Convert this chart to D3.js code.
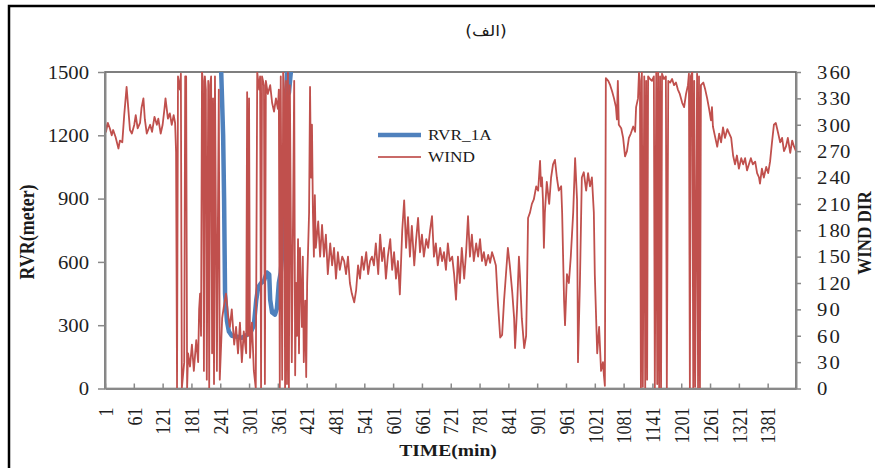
<!DOCTYPE html>
<html>
<head>
<meta charset="utf-8">
<script src="https://cdn.jsdelivr.net/npm/d3@7"></script>
<style>
  body { margin: 0; background: #fff; }
  svg { display: block; }
</style>
</head>
<body>
<div id="chart"></div>
<script>
// chart text
const chartTitle = "(الف)";
const leftTitle = "RVR(meter)";
const rightTitle = "WIND DIR";
const bottomTitle = "TIME(min)";
const seriesNames = ["RVR_1A", "WIND"];

// axis ticks
const rvrTicks = [0, 300, 600, 900, 1200, 1500];
const dirTicks = [0, 30, 60, 90, 120, 150, 180, 210, 240, 270, 300, 330, 360];
const timeTicks = [1, 61, 121, 181, 241, 301, 361, 421, 481, 541, 601, 661, 721, 781,
  841, 901, 961, 1021, 1081, 1141, 1201, 1261, 1321, 1381];

// RVR_1A (meters); above 1500 it leaves the plot
const rvrTime = [1, 238, 243, 247, 249, 251, 255, 259, 265, 276, 286, 297, 305, 311, 316, 320,
  326, 332, 338, 343, 345, 349, 355, 359, 363, 367, 372, 376, 378, 380, 384, 388, 393, 1440];
const rvrValue = [2000, 2000, 1500, 1200, 900, 450, 320, 270, 250, 245, 240, 255, 270, 300, 420, 480,
  500, 510, 550, 540, 420, 360, 350, 380, 500, 550, 700, 1000, 1200, 1500, 1400, 1500, 2000, 2000];

// WIND direction (degrees)
const windTime = [
  1, 3, 7, 11, 15, 18, 23, 29, 32, 37, 41, 46, 50, 53, 57, 62, 65, 69, 74, 77, 81, 84, 88, 95, 99,
  104, 109, 112, 117, 121, 125, 127, 132, 136, 140, 144, 147, 149,
  151, 153, 157, 159, 161, 166, 168, 170, 172, 174, 178, 182, 186, 191, 195, 197, 199, 201, 203,
  205, 207, 209, 211, 213, 216, 218, 220, 222, 224, 226, 228, 230, 234, 238,
  240, 245, 249, 253, 257, 261, 265, 270, 274, 278, 282, 286, 290, 295, 297, 299, 301, 303, 307, 311,
  315, 318, 322, 324, 326, 328, 332, 334, 336, 340, 345, 349, 353, 357, 361, 363, 365, 367, 370, 372,
  374, 376, 378, 380, 382, 384, 386, 390, 395, 397, 399, 401, 403, 405, 407, 411, 413, 415, 418, 420,
  422, 426, 428, 430, 432, 434, 436, 438, 440, 445, 449,
  453, 457, 461, 465, 470, 474, 478, 482, 486, 490, 495, 499, 503, 507, 511, 515, 520, 524, 528, 532,
  536, 540, 545, 549, 553, 557, 561, 565, 570, 574, 578, 582, 586, 590, 595, 599, 603, 607, 611, 615,
  620, 624, 628, 632, 636, 640, 645, 649, 653, 657, 661, 665, 670, 674, 678, 682, 686, 690, 694, 699,
  703, 707, 711, 715, 719, 724, 728, 732, 736, 740, 744, 749, 753, 757, 761, 765, 769, 774, 778, 782,
  786, 790, 794, 799, 803, 807, 811, 815, 819,
  824, 828, 832, 836, 840, 844, 849, 853, 855, 859, 863, 865, 869, 874, 878, 880, 882, 886, 890, 894,
  899, 903, 907, 909, 911, 913, 915, 917, 921, 926, 930, 934, 938, 942, 946, 951, 953, 957, 959, 963,
  967, 971, 976, 980, 984, 986, 990, 994, 998, 1003, 1007, 1011, 1015, 1019, 1021, 1026, 1030, 1034,
  1038, 1040, 1042, 1044,
  1049, 1053, 1057, 1061, 1065, 1067, 1069, 1071, 1076, 1080, 1084, 1088, 1092, 1096, 1101, 1105,
  1107, 1111, 1113, 1115, 1117, 1119, 1121, 1124, 1126, 1128, 1130, 1132, 1136, 1140, 1144, 1146,
  1149, 1151, 1153, 1155, 1157, 1159, 1161, 1165, 1169, 1171, 1174, 1178, 1182, 1186, 1190, 1194,
  1198, 1203, 1207, 1211, 1215, 1217, 1219, 1221, 1224, 1226, 1228, 1230, 1234, 1236, 1238, 1240,
  1242, 1247, 1251, 1255, 1259, 1263, 1265, 1267, 1272, 1276, 1280, 1284, 1288, 1292, 1297, 1301,
  1305, 1309, 1313, 1317, 1321, 1326, 1330, 1334, 1338, 1342, 1346, 1350, 1355, 1359, 1363, 1365,
  1369, 1373, 1378, 1382, 1386, 1390, 1394, 1398, 1403, 1407, 1411, 1415, 1419, 1423, 1428, 1432,
  1436, 1440
];
const windDir = [
  307, 292, 302, 296, 288, 294, 286, 273, 282, 280, 311, 343, 315, 294, 290, 300, 311, 296, 302, 319,
  330, 306, 290, 300, 292, 309, 300, 307, 290, 300, 319, 330, 307, 313, 300, 311, 302, 269,
  0, 355, 340, 358, 0, 30, 355, 355, 0, 40, 25, 50, 20, 55, 30, 90, 108, 60, 360,
  350, 20, 355, 340, 10, 350, 0, 345, 355, 40, 330, 5, 355, 20, 340,
  10, 80, 95, 108, 85, 70, 90, 50, 70, 40, 75, 30, 65, 40, 337, 60, 330, 35, 75, 20,
  0, 360, 340, 355, 0, 355, 345, 5, 350, 335, 345, 325, 315, 330, 318, 340, 0, 355, 10, 360,
  340, 0, 350, 5, 360, 0, 345, 30, 350, 15, 120, 60, 170, 40, 160, 70, 150, 30, 100, 13,
  120, 200, 343, 240, 300, 200, 150, 220, 160, 190, 150,
  186, 150, 175, 130, 165, 140, 160, 125, 155, 135, 150, 145, 130, 150, 120, 108, 98, 112, 140, 125,
  150, 135, 155, 130, 145, 150, 140, 165, 130, 175, 145, 160, 125, 150, 170, 135, 155, 125, 145, 107,
  180, 214, 160, 195, 150, 185, 140, 170, 194, 155, 175, 150, 170, 160, 180, 196, 150, 165, 140, 160,
  145, 155, 135, 165, 145, 150, 130, 101, 150, 120, 160, 125, 155, 196, 150, 175, 145, 165, 150, 170,
  145, 155, 140, 152, 143, 155, 148, 140, 100,
  58, 61, 100, 130, 160, 140, 110, 80, 46, 90, 150, 130, 80, 46, 60, 120, 194, 200, 210, 215,
  230, 225, 259, 230, 240, 215, 160, 200, 235, 210, 240, 255, 260, 240, 225, 230, 200, 100, 72, 130,
  120, 150, 200, 262, 215, 30, 120, 240, 246, 225, 245, 230, 240, 200, 130, 40, 70, 20,
  30, 15, 3, 353,
  350, 345, 338, 330, 320, 306, 350, 300, 296, 285, 264, 270, 285, 290, 298, 292,
  320, 330, 359, 350, 0, 360, 2, 355, 0, 350, 10, 355, 352, 350, 355, 0,
  360, 5, 360, 0, 355, 0, 358, 352, 355, 0, 350, 348, 352, 345, 348, 340,
  335, 325, 320, 335, 345, 358, 0, 355, 360, 0, 350, 2, 358, 0, 355, 0,
  345, 348, 340, 330, 318, 305, 320, 298, 285, 275, 290, 280, 297, 285, 295, 290,
  285, 265, 255, 265, 250, 262, 255, 262, 248, 255, 262, 255, 258, 245, 240, 233,
  250, 240, 252, 245, 258, 280, 300, 302, 290, 280, 285, 270, 275, 285, 268, 282,
  275, 270
];

const width = 875, height = 468;
const margin = { top: 72, right: 79, bottom: 79.5, left: 105 };
const stretch = 1.15; // glyphs in the picture are a little wide
const serif = "'Liberation Serif', 'Times New Roman', serif";
const blue = "#4f81bd", red = "#c0504d";

const svg = d3.select("#chart").append("svg")
  .attr("width", width)
  .attr("height", height);

svg.append("rect").attr("width", width).attr("height", height).attr("fill", "#fff");

// outer chart frame (runs off the right and bottom edges)
svg.append("rect")
  .attr("x", 9).attr("y", 6)
  .attr("width", 920).attr("height", 520)
  .attr("fill", "none")
  .attr("stroke", "#000")
  .attr("stroke-width", 2.5);

const x = d3.scaleLinear().domain([1, 1440]).range([margin.left, width - margin.right]);
const yL = d3.scaleLinear().domain([0, 1500]).range([height - margin.bottom, margin.top]);
const yR = d3.scaleLinear().domain([0, 360]).range([height - margin.bottom, margin.top]);

svg.append("clipPath").attr("id", "plot-clip")
  .append("rect")
  .attr("x", margin.left).attr("y", margin.top)
  .attr("width", width - margin.left - margin.right)
  .attr("height", height - margin.top - margin.bottom);

// plot area border
svg.append("rect")
  .attr("x", margin.left).attr("y", margin.top)
  .attr("width", width - margin.left - margin.right)
  .attr("height", height - margin.top - margin.bottom)
  .attr("fill", "none")
  .attr("stroke", "#555")
  .attr("stroke-width", 1.5);

const rvrData = d3.zip(rvrTime, rvrValue);
const windData = d3.zip(windTime, windDir);

const plot = svg.append("g").attr("clip-path", "url(#plot-clip)");

plot.append("path")
  .datum(rvrData)
  .attr("fill", "none")
  .attr("stroke", blue)
  .attr("stroke-width", 4.5)
  .attr("stroke-linejoin", "round")
  .attr("d", d3.line().x(d => x(d[0])).y(d => yL(d[1])));

plot.append("path")
  .datum(windData)
  .attr("fill", "none")
  .attr("stroke", red)
  .attr("stroke-width", 1.8)
  .attr("stroke-linejoin", "round")
  .attr("d", d3.line().x(d => x(d[0])).y(d => yR(d[1])));

function styleAxis(g) {
  g.select(".domain").attr("stroke", "#898989").attr("stroke-width", 2);
  g.selectAll(".tick line").attr("stroke", "#898989").attr("stroke-width", 1.5);
  g.selectAll(".tick text")
    .attr("fill", "#1e1e1e")
    .style("font-family", serif)
    .style("font-size", "18px");
}

const plain = d3.format("d");

// left axis
const gLeft = svg.append("g")
  .attr("transform", `translate(${margin.left},0)`)
  .call(d3.axisLeft(yL).tickValues(rvrTicks).tickFormat(plain).tickSize(7).tickSizeOuter(0))
  .call(styleAxis);
gLeft.selectAll(".tick text")
  .attr("x", null).attr("dy", "0.35em")
  .attr("transform", `translate(-16,0) scale(${stretch},1)`);

// right axis
const gRight = svg.append("g")
  .attr("transform", `translate(${width - margin.right},0)`)
  .call(d3.axisRight(yR).tickValues(dirTicks).tickFormat(plain).tickSize(5).tickSizeOuter(0))
  .call(styleAxis);
gRight.selectAll(".tick text")
  .attr("x", null).attr("dy", "0.35em")
  .attr("transform", `translate(21,0) scale(${stretch},1)`)
  .each(function(d) {
    const s = plain(d);
    const t = d3.select(this).text(null);
    t.append("tspan").text(s[0]);
    if (s.length > 1) t.append("tspan").attr("dx", 2).text(s.slice(1));
  });

// bottom axis, ticks point into the plot
const gBottom = svg.append("g")
  .attr("transform", `translate(0,${height - margin.bottom})`)
  .call(d3.axisBottom(x).tickValues(timeTicks).tickFormat(plain).tickSize(-5).tickSizeOuter(0))
  .call(styleAxis);
gBottom.selectAll(".tick text")
  .attr("y", null).attr("dy", "0.35em")
  .attr("text-anchor", "end")
  .attr("transform", `translate(0,19) scale(${stretch},1) rotate(-90)`);

function label(txt, px, py, opts = {}) {
  return svg.append("text")
    .attr("transform", `translate(${px},${py}) scale(${stretch},1)` + (opts.rotate ? " rotate(-90)" : ""))
    .attr("text-anchor", opts.anchor || "middle")
    .attr("dy", opts.dy || "0.35em")
    .attr("fill", "#1a1a1a")
    .style("font-family", opts.family || serif)
    .style("font-size", (opts.size || 18) + "px")
    .style("font-weight", opts.weight || "normal")
    .text(txt);
}

label(chartTitle, 486, 31, { family: "'DejaVu Sans', sans-serif", size: 15 });
label(leftTitle, 27, 232, { rotate: true, weight: "bold", size: 18 });
label(rightTitle, 864, 233, { rotate: true, weight: "bold", size: 17 });
label(bottomTitle, 448, 450, { weight: "bold", size: 17 });

// legend
const legend = svg.append("g");
const legendY = [135, 157];
const legendStyle = [{ color: blue, w: 4.5 }, { color: red, w: 2 }];
seriesNames.forEach((name, i) => {
  legend.append("line")
    .attr("x1", 378).attr("x2", 421)
    .attr("y1", legendY[i]).attr("y2", legendY[i])
    .attr("stroke", legendStyle[i].color)
    .attr("stroke-width", legendStyle[i].w)
    .attr("stroke-opacity", i === 1 ? 0.85 : 1);
  label(name, 428, legendY[i], { anchor: "start", size: 15 });
});
</script>
</body>
</html>
